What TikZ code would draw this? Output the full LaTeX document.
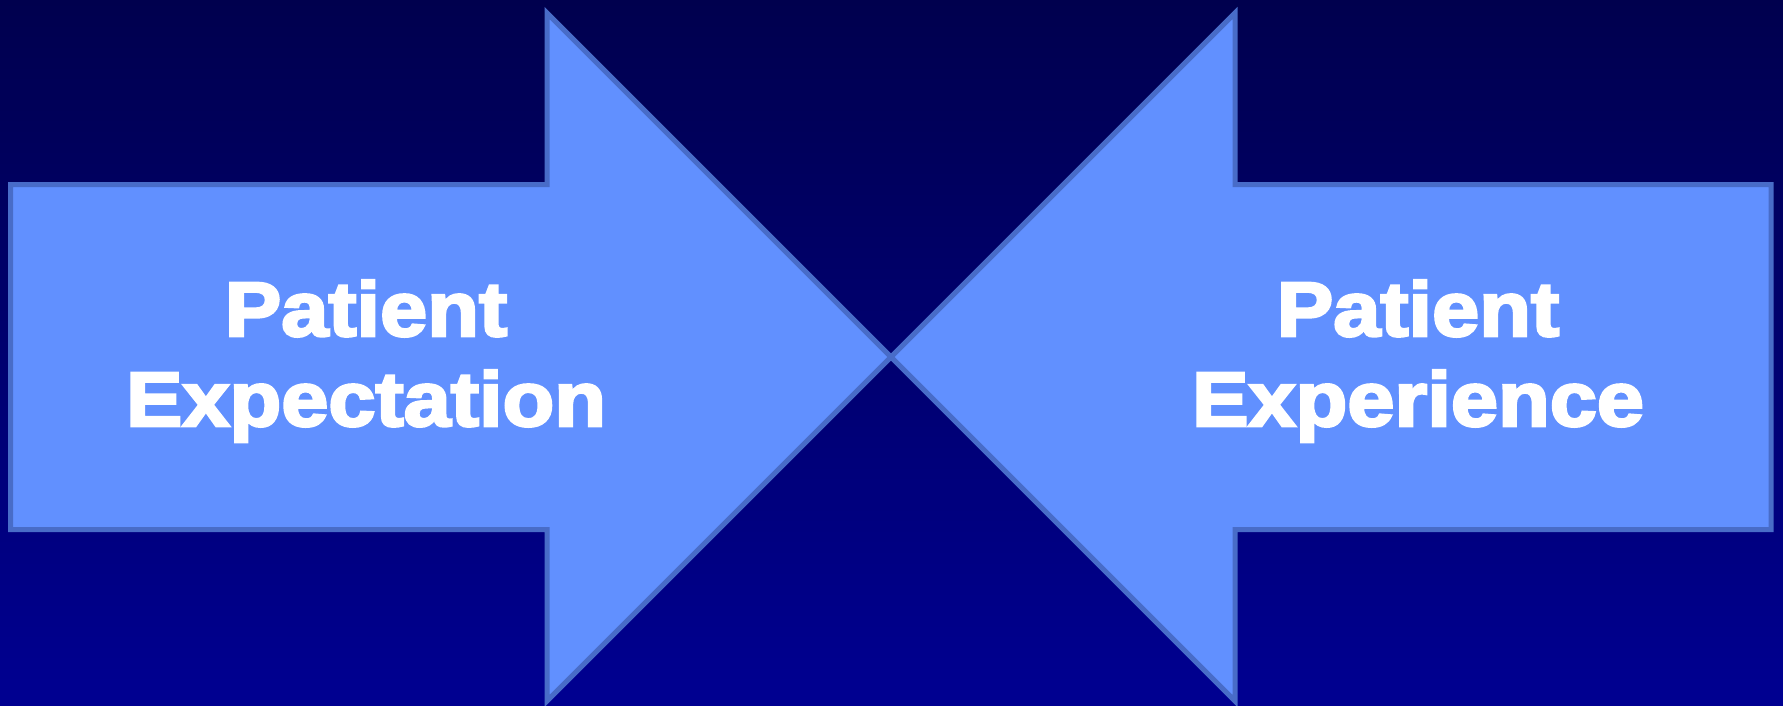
\documentclass[tikz,border=0pt]{standalone}
\usepackage{fontspec}
\setmainfont{Liberation Sans}[BoldFeatures={FakeBold=3.5,FakeStretch=1.1}]
\usetikzlibrary{positioning}
\definecolor{bgtop}{RGB}{0,0,78}
\definecolor{bgbot}{RGB}{0,0,145}
\definecolor{arrowfill}{RGB}{97,144,255}
\definecolor{arrowedge}{RGB}{72,108,200}
\begin{document}
\begin{tikzpicture}[x=1pt,y=-1pt,
  bigarrow/.style={fill=arrowfill,draw=arrowedge,line width=5pt,line join=miter},
  lbl/.style={text=white,font=\fontsize{77}{90}\selectfont\bfseries,align=center}]
\shade[top color=bgtop,bottom color=bgbot] (0,0) rectangle (1783,705);
\useasboundingbox (0,0) rectangle (1783,705);
\draw[bigarrow] (10.5,184.5) -- (547,184.5) -- (547,13) -- (891,357) -- (547,701) -- (547,529.5) -- (10.5,529.5) -- cycle;
\draw[bigarrow] (1771,184.5) -- (1235,184.5) -- (1235,13) -- (891,357) -- (1235,701) -- (1235,529.5) -- (1771,529.5) -- cycle;
\node[lbl] (left) at (366,361) {Patient\\Expectation};
\node[lbl] (right) at (1418,361) {Patient\\Experience};
\end{tikzpicture}
\end{document}
